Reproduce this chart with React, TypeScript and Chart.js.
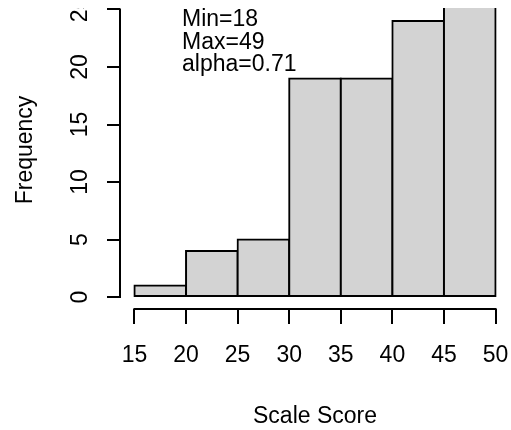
import React, { useEffect, useRef } from "react";
import { Chart, registerables } from "chart.js";

Chart.register(...registerables);

// ---- data ----
const binStarts = [15, 20, 25, 30, 35, 40, 45];
const binWidth = 5;
const frequencies = [1, 4, 5, 19, 19, 24, 27];
const xTicks = [15, 20, 25, 30, 35, 40, 45, 50];
const yTicks = [0, 5, 10, 15, 20, 25];
const annotationLines = ["Min=18", "Max=49", "alpha=0.71"];
const xTitle = "Scale Score";
const yTitle = "Frequency";

const FONT = "'Liberation Sans', Arial, sans-serif";
const FONT_SIZE = 23;

const rAxesPlugin = {
  id: "rAxes",
  afterDraw(chart: any) {
    const { ctx, chartArea } = chart;
    const x = chart.scales.x;
    const y = chart.scales.y;
    ctx.save();
    ctx.strokeStyle = "#000";
    ctx.lineWidth = 2;
    ctx.lineCap = "butt";
    // y axis line (from first to last tick)
    const ax = chartArea.left;
    ctx.beginPath();
    ctx.moveTo(ax, y.getPixelForValue(yTicks[0]) + 1);
    ctx.lineTo(ax, y.getPixelForValue(yTicks[yTicks.length - 1]) - 1);
    ctx.stroke();
    // x axis line (from first to last tick)
    const ay = chartArea.bottom;
    ctx.beginPath();
    ctx.moveTo(x.getPixelForValue(xTicks[0]) - 1, ay);
    ctx.lineTo(x.getPixelForValue(xTicks[xTicks.length - 1]) + 1, ay);
    ctx.stroke();

    ctx.fillStyle = "#000";
    ctx.font = `${FONT_SIZE}px ${FONT}`;
    // y tick labels, parallel to the axis (cut at the picture's top edge)
    ctx.save();
    ctx.beginPath();
    ctx.rect(0, chartArea.top, chart.width, chart.height - chartArea.top);
    ctx.clip();
    ctx.textAlign = "center";
    ctx.textBaseline = "alphabetic";
    for (const v of yTicks) {
      ctx.save();
      ctx.translate(chartArea.left - 33, y.getPixelForValue(v));
      ctx.rotate(-Math.PI / 2);
      ctx.fillText(String(v), 0, 0);
      ctx.restore();
    }
    ctx.restore();
    // y title
    ctx.save();
    ctx.textAlign = "center";
    ctx.translate(32, 150);
    ctx.rotate(-Math.PI / 2);
    ctx.fillText(yTitle, 0, 0);
    ctx.restore();

    // annotation text
    ctx.textAlign = "left";
    ctx.textBaseline = "alphabetic";
    annotationLines.forEach((t, i) => {
      ctx.fillText(t, chartArea.left + 62, 26 + i * 22.7);
    });
    ctx.restore();
  },
};

export default function App() {
  const ref = useRef<HTMLCanvasElement>(null);
  useEffect(() => {
    document.body.style.margin = "0";
    const canvas = ref.current!;
    const chart = new Chart(canvas, {
      type: "bar",
      data: {
        datasets: [
          {
            data: binStarts.map((s, i) => ({ x: s + binWidth / 2, y: frequencies[i] })),
            backgroundColor: "#D3D3D3",
            borderColor: "#000",
            borderWidth: 2,
            borderSkipped: false,
            inflateAmount: 1,
            barPercentage: 1,
            categoryPercentage: 1,
            clip: 0,
          } as any,
        ],
      },
      options: {
        responsive: false,
        animation: false,
        devicePixelRatio: 1,
        layout: { padding: { top: 8, right: 1, left: 0, bottom: 0 } },
        plugins: { legend: { display: false }, tooltip: { enabled: false } },
        scales: {
          x: {
            type: "linear",
            offset: false,
            min: 13.6,
            max: 51.4,
            afterBuildTicks: (s: any) => {
              s.ticks = xTicks.map((v) => ({ value: v }));
            },
            afterFit: (s: any) => {
              s.height = 121;
              s.paddingLeft = 0;
              s.paddingRight = 0;
            },
            ticks: {
              autoSkip: false,
              maxRotation: 0,
              minRotation: 0,
              padding: 18,
              color: "#000",
              font: { family: FONT, size: FONT_SIZE },
            },
            grid: {
              offset: false,
              drawOnChartArea: false,
              drawTicks: true,
              tickLength: 15,
              color: "#000",
              lineWidth: 2,
            },
            border: { display: false },
            title: {
              display: true,
              text: xTitle,
              color: "#000",
              font: { family: FONT, size: FONT_SIZE },
              padding: { top: 0, bottom: 0 },
            },
          },
          y: {
            type: "linear",
            min: -1.04,
            max: 25.13,
            afterBuildTicks: (s: any) => {
              s.ticks = yTicks.map((v) => ({ value: v }));
            },
            afterFit: (s: any) => {
              s.width = 120;
              s.paddingTop = 0;
              s.paddingBottom = 0;
            },
            ticks: { display: false },
            grid: {
              drawOnChartArea: false,
              drawTicks: true,
              tickLength: 13,
              color: "#000",
              lineWidth: 2,
            },
            border: { display: false },
          },
        },
      },
      plugins: [rAxesPlugin],
    } as any);
    return () => chart.destroy();
  }, []);
  return (
    <div style={{ width: 511, height: 430 }}>
      <canvas ref={ref} width={511} height={430} style={{ display: "block" }} />
    </div>
  );
}
